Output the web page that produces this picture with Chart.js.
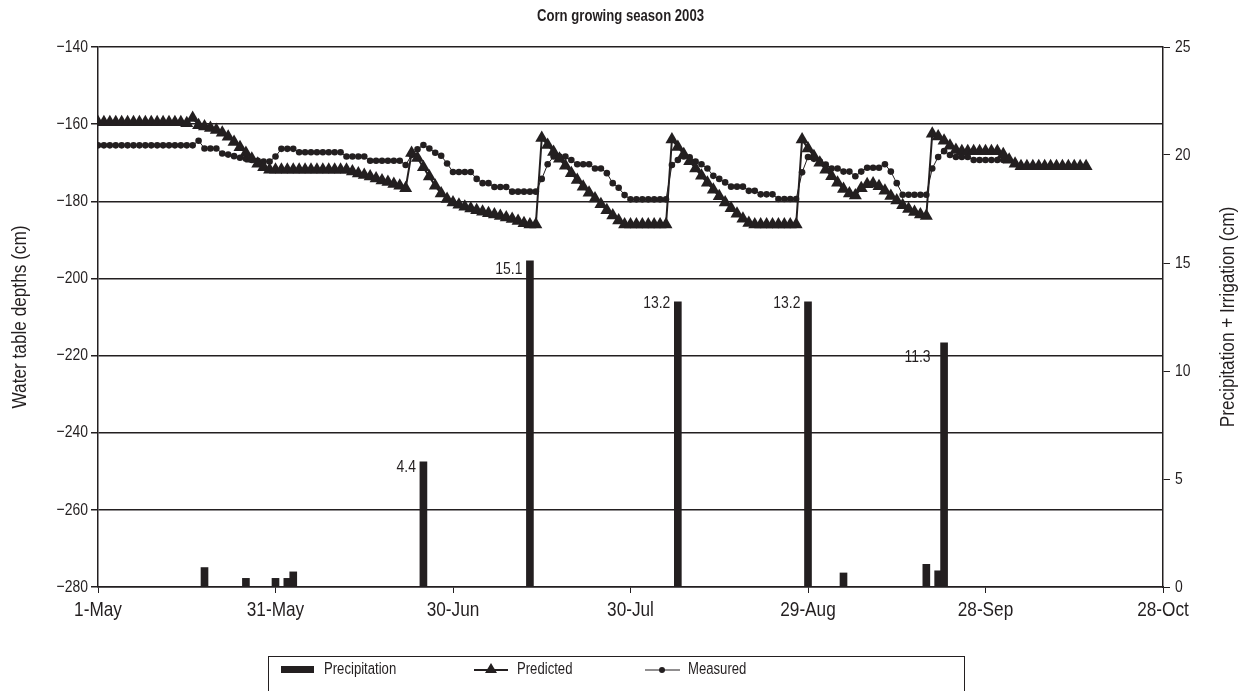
<!DOCTYPE html>
<html>
<head>
<meta charset="utf-8">
<title>Corn growing season 2003</title>
<script src="https://cdn.jsdelivr.net/npm/chart.js@4.4.1/dist/chart.umd.min.js"></script>
<style>
    html, body { margin: 0; padding: 0; background: #fff; overflow: hidden; }
    #wrap { position: relative; width: 1241px; height: 691px; }
    #legend {
        position: absolute; left: 268px; top: 656px; width: 697px; height: 44px;
        border: 1px solid #231f20; box-sizing: border-box;
        font-family: "Liberation Sans", Arial, sans-serif;
        font-size: 16px; color: #231f20;
    }
    .item { position: absolute; top: 2px; height: 20px; line-height: 20px; white-space: nowrap; }
    .item svg { position: absolute; left: 0; top: 0; }
    .item span { position: absolute; top: 0; left: 43px; transform: scaleX(0.82); transform-origin: left center; }
</style>
</head>
<body>
<div id="wrap">
    <canvas id="chart" width="1241" height="691"></canvas>
    <div id="legend"></div>
</div>
<script>
// =============================
// DATA
// =============================
const chartTitle = "Corn growing season 2003";
const leftAxisTitle = "Water table depths (cm)";
const rightAxisTitle = "Precipitation + Irrigation (cm)";
const xTickLabels = ["1-May", "31-May", "30-Jun", "30-Jul", "29-Aug", "28-Sep", "28-Oct"];

// water table depth (cm), one value per day starting 1-May
const predictedDepth = [
    -159.5, -159.5, -159.5, -159.5, -159.5, -159.5, -159.5, -159.5, -159.5, -159.5,
    -159.5, -159.5, -159.5, -159.5, -159.5, -159.8, -158.4, -160.3, -160.6, -161,
    -161.5, -162.2, -163.3, -164.6, -166, -167.5, -169, -170.3, -171.2, -171.8,
    -171.8, -171.8, -171.8, -171.8, -171.8, -171.8, -171.8, -171.8, -171.8, -171.8,
    -171.8, -171.8, -171.8, -172.3, -172.8, -173.2, -173.6, -174.1, -174.6, -175,
    -175.5, -176, -176.6, -167.5, -168.8, -171.2, -173.6, -176, -178, -179.4,
    -180.3, -180.9, -181.4, -181.9, -182.3, -182.7, -183.1, -183.4, -183.8, -184.2,
    -184.6, -185.1, -185.7, -186, -186, -163.6, -165.4, -167.2, -169, -170.8,
    -172.7, -174.5, -176.2, -177.8, -179.3, -180.8, -182.3, -183.7, -185, -186,
    -186, -186, -186, -186, -186, -186, -186, -164, -165.9, -167.8,
    -169.6, -171.5, -173.4, -175.2, -177, -178.7, -180.3, -181.8, -183.2, -184.5,
    -185.6, -186, -186, -186, -186, -186, -186, -186, -186, -164,
    -166.3, -168.3, -170, -171.8, -173.5, -175.2, -176.8, -178, -178.5, -176.6,
    -175.6, -175.4, -176.1, -177.3, -178.6, -179.8, -181, -182, -182.8, -183.4,
    -183.8, -162.5, -163.2, -164.3, -165.6, -166.7, -167, -167, -167, -167,
    -167, -167, -167, -167.8, -169.2, -170.3, -170.9, -170.9, -170.9, -170.9,
    -170.9, -170.9, -170.9, -170.9, -170.9, -170.9, -170.9, -170.9
];

const measuredDepth = [
    -165.5, -165.5, -165.5, -165.5, -165.5, -165.5, -165.5, -165.5, -165.5, -165.5,
    -165.5, -165.5, -165.5, -165.5, -165.5, -165.5, -165.5, -164.3, -166.3, -166.3,
    -166.3, -167.6, -167.9, -168.3, -168.7, -169, -169.3, -169.5, -169.7, -169.7,
    -168.4, -166.4, -166.4, -166.4, -167.3, -167.3, -167.3, -167.3, -167.3, -167.3,
    -167.3, -167.3, -168.4, -168.4, -168.4, -168.4, -169.5, -169.5, -169.5, -169.5,
    -169.5, -169.5, -170.6, -168, -166.5, -165.4, -166.3, -167.4, -168.2, -170.2,
    -172.4, -172.4, -172.4, -172.4, -174.2, -175.3, -175.3, -176.3, -176.3, -176.3,
    -177.5, -177.5, -177.5, -177.5, -177.5, -174.2, -170.4, -168.4, -168.4, -168.4,
    -169.3, -170.4, -170.4, -170.4, -171.5, -171.5, -172.7, -175.3, -176.5, -178.4,
    -179.5, -179.5, -179.5, -179.5, -179.5, -179.5, -179.5, -170.6, -169.3, -168.4,
    -168.6, -169.7, -170.4, -171.5, -173.4, -174.2, -175.1, -176.2, -176.2, -176.2,
    -177.3, -177.3, -178.2, -178.2, -178.2, -179.4, -179.4, -179.4, -179.4, -172.5,
    -168.5, -169, -169.7, -170.5, -171.5, -171.5, -172.3, -172.3, -173.5, -172.3,
    -171.3, -171.3, -171.3, -170.4, -172.3, -175.3, -178.3, -178.3, -178.3, -178.3,
    -178.3, -171.5, -168.5, -167, -168, -168.5, -168.5, -168.5, -169.3, -169.3,
    -169.3, -169.3, -169.3, -169.3
];

// precipitation + irrigation events (day after 1-May, cm)
const precipDays = [18, 25, 30, 32, 33, 55, 73, 98, 120, 126, 140, 142, 143];
const precipCm = [0.9, 0.4, 0.4, 0.4, 0.7, 5.8, 15.1, 13.2, 13.2, 0.65, 1.05, 0.75, 11.3];
const precipLabels = ["", "", "", "", "", "4.4", "15.1", "13.2", "13.2", "", "", "", "11.3"];

// =============================
// STYLE
// =============================
const INK = "#231f20";
const FONT = "'Liberation Sans', Arial, sans-serif";
const NARROW = 0.82;          // squeeze Arial metrics into a narrow face
const labelDy = { 5: 6, 6: 8, 7: 1, 8: 1, 12: 14 };
const labelGap = { 12: 10 };

Chart.defaults.font.family = FONT;
Chart.defaults.font.size = 16;
Chart.defaults.color = INK;

function toPoints(values) {
    return values.map((v, i) => ({ x: i, y: v }));
}

function minusLabel(v) {
    return v < 0 ? "\u2212" + Math.abs(v) : String(v);
}

function drawText(ctx, text, x, y, align, font, rotate) {
    ctx.save();
    ctx.translate(x, y);
    if (rotate) ctx.rotate(rotate);
    ctx.scale(NARROW, 1);
    ctx.font = font || "16px " + FONT;
    ctx.fillStyle = INK;
    ctx.textAlign = align || "center";
    ctx.textBaseline = "middle";
    ctx.fillText(text, 0, 0);
    ctx.restore();
}

// =============================
// TEXT (title, ticks, axis titles, bar labels)
// =============================
const textPlugin = {
    id: "narrowText",
    afterDraw(chart) {
        const ctx = chart.ctx;
        const area = chart.chartArea;
        const { x, y, y1 } = chart.scales;
        const midY = (area.top + area.bottom) / 2;
        const big = "21px " + FONT;

        drawText(ctx, chartTitle, chart.width / 2, 17, "center", "bold 16px " + FONT);

        y.ticks.forEach(t => drawText(ctx, minusLabel(t.value), area.left - 10, y.getPixelForValue(t.value), "right", "17px " + FONT));
        y1.ticks.forEach(t => drawText(ctx, String(t.value), area.right + 12, y1.getPixelForValue(t.value), "left", "17px " + FONT));
        x.ticks.forEach(t => drawText(ctx, xTickLabels[t.value / 30], x.getPixelForValue(t.value), area.bottom + 23, "center", big));

        drawText(ctx, leftAxisTitle, 20, midY, "center", big, -Math.PI / 2);
        drawText(ctx, rightAxisTitle, 1228, midY, "center", big, -Math.PI / 2);

        const meta = chart.getDatasetMeta(0);
        meta.data.forEach((bar, i) => {
            if (!precipLabels[i]) return;
            const gap = labelGap[i] || 4;
            drawText(ctx, precipLabels[i], bar.x - bar.width / 2 - gap, bar.y + (labelDy[i] || 0), "right", "17px " + FONT);
        });
    }
};

// =============================
// CHART
// =============================
const chart = new Chart(document.getElementById("chart"), {
    data: {
        datasets: [
            {
                type: "bar",
                label: "Precipitation",
                data: precipDays.map((d, i) => ({ x: d, y: precipCm[i] })),
                yAxisID: "y1",
                backgroundColor: INK,
                barThickness: 7,
                order: 3
            },
            {
                type: "line",
                label: "Predicted",
                data: toPoints(predictedDepth),
                yAxisID: "y",
                borderColor: INK,
                borderWidth: 2,
                pointStyle: "triangle",
                pointRadius: 7.5,
                pointBackgroundColor: INK,
                pointBorderColor: INK,
                pointBorderWidth: 0,
                tension: 0,
                order: 1
            },
            {
                type: "line",
                label: "Measured",
                data: toPoints(measuredDepth),
                yAxisID: "y",
                borderColor: INK,
                borderWidth: 1,
                pointStyle: "circle",
                pointRadius: 3.3,
                pointBackgroundColor: INK,
                pointBorderColor: INK,
                pointBorderWidth: 0,
                tension: 0,
                order: 2
            }
        ]
    },
    options: {
        responsive: false,
        animation: false,
        devicePixelRatio: 1,
        layout: { padding: { top: 47, bottom: 70, left: 0, right: 0 } },
        plugins: {
            legend: { display: false },
            tooltip: { enabled: false },
            title: { display: false }
        },
        scales: {
            x: {
                type: "linear",
                offset: false,
                min: 0,
                max: 180,
                afterFit: s => { s.height = 34; },
                ticks: { stepSize: 30, display: false },
                grid: { offset: false, drawOnChartArea: false, tickLength: 6, color: INK },
                border: { color: INK, width: 1.5 }
            },
            y: {
                position: "left",
                min: -280,
                max: -140,
                afterFit: s => { s.width = 98; },
                ticks: { stepSize: 20, display: false },
                grid: { color: INK, lineWidth: 1.5, tickLength: 7 },
                border: { color: INK, width: 1.5 }
            },
            y1: {
                position: "right",
                min: 0,
                max: 25,
                afterFit: s => { s.width = 78; },
                ticks: { stepSize: 5, display: false },
                grid: { drawOnChartArea: false, color: INK, tickLength: 7 },
                border: { color: INK, width: 1.5 }
            }
        }
    },
    plugins: [textPlugin]
});

// =============================
// LEGEND
// =============================
function buildLegend() {
    const legend = document.getElementById("legend");
    const items = [
        { left: 12, text: "Precipitation", svg: `<rect x="0" y="7" width="33" height="7" fill="${INK}"/>` },
        { left: 205, text: "Predicted", svg: `<line x1="0" y1="11" x2="34" y2="11" stroke="${INK}" stroke-width="2"/><polygon points="17,4 23,14 11,14" fill="${INK}"/>` },
        { left: 376, text: "Measured", svg: `<line x1="0" y1="11" x2="35" y2="11" stroke="${INK}" stroke-width="1"/><circle cx="17" cy="11" r="3" fill="${INK}"/>` }
    ];
    items.forEach(it => {
        const div = document.createElement("div");
        div.className = "item";
        div.style.left = it.left + "px";
        div.innerHTML = `<svg width="36" height="20">${it.svg}</svg><span>${it.text}</span>`;
        legend.appendChild(div);
    });
}

buildLegend();
</script>
</body>
</html>
